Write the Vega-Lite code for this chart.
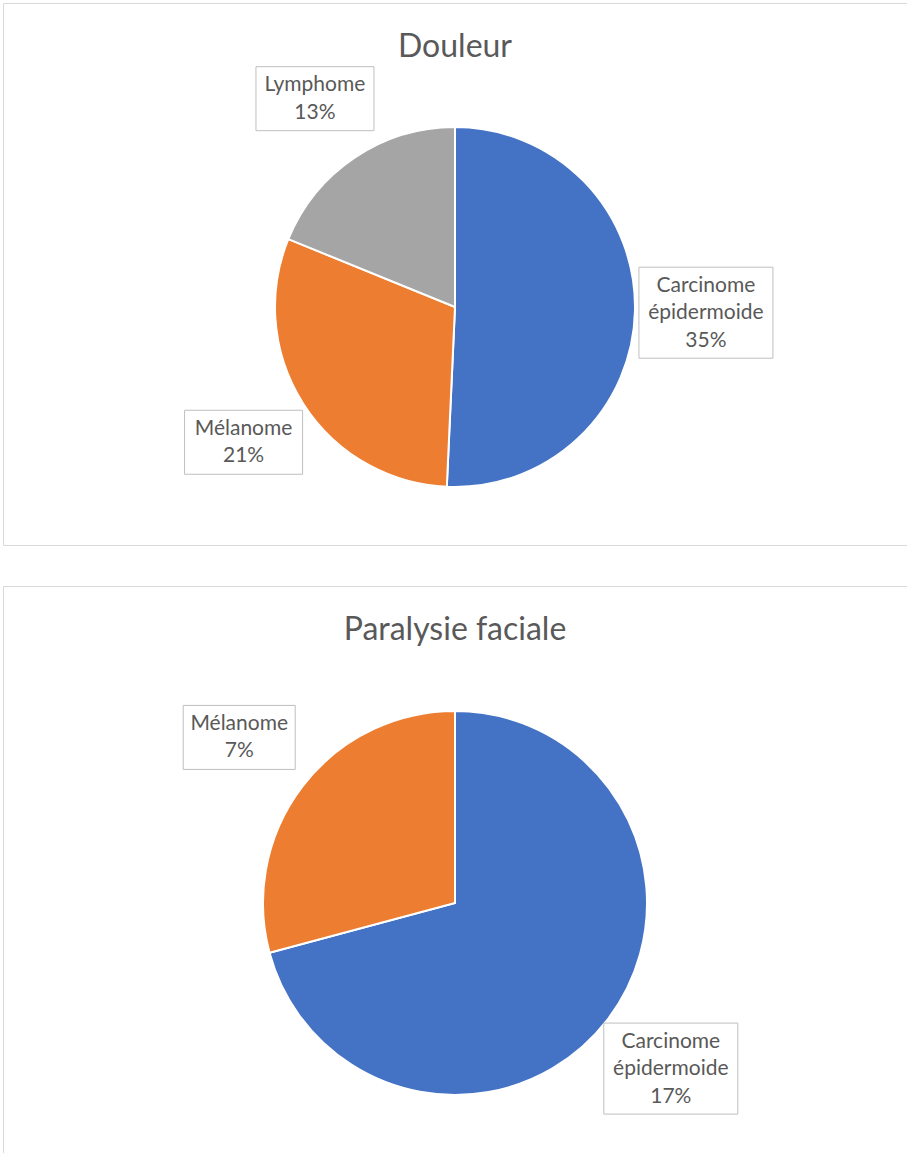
{
  "$schema": "https://vega.github.io/schema/vega-lite/v6.json",
  "padding": {"left": 2, "top": 2, "right": 1, "bottom": 0},
  "background": "white",
  "spacing": 39,
  "config": {
    "view": {"stroke": "#d9d9d9", "strokeWidth": 1},
    "font": "Lato",
    "title": {"fontSize": 32, "fontWeight": "normal", "color": "#595959", "font": "Lato", "anchor": "middle", "offset": -61}
  },
  "datasets": {
    "douleur": [
      {"cat": "Carcinome épidermoide", "v": 35, "label": ["Carcinome", "épidermoide", "35%"]},
      {"cat": "Mélanome", "v": 21, "label": ["Mélanome", "21%"]},
      {"cat": "Lymphome", "v": 13, "label": ["Lymphome", "13%"]}
    ],
    "paralysie": [
      {"cat": "Carcinome épidermoide", "v": 17, "label": ["Carcinome", "épidermoide", "17%"]},
      {"cat": "Mélanome", "v": 7, "label": ["Mélanome", "7%"]}
    ]
  },
  "resolve": {"scale": {"theta": "independent"}},
  "vconcat": [
    {
      "width": 904,
      "height": 542,
      "view": {"stroke": "#d9d9d9", "strokeWidth": 1, "fill": "white"},
      "title": {"text": "Douleur"},
      "data": {"name": "douleur"},
      "layer": [
        {
          "mark": {"type": "arc", "outerRadius": 180, "stroke": "white", "strokeWidth": 2, "y": 304},
          "encoding": {
            "theta": {"field": "v", "type": "quantitative", "stack": true},
            "order": {"field": "v", "type": "quantitative", "sort": "descending"},
            "color": {"field": "cat", "type": "nominal", "legend": null,
              "scale": {"domain": ["Carcinome épidermoide", "Mélanome", "Lymphome"], "range": ["#4472C4", "#ED7D31", "#A5A5A5"]}}
          }
        },
        {
          "transform": [
            {"joinaggregate": [{"op": "sum", "field": "v", "as": "tot"}]},
            {"stack": "v", "groupby": [], "sort": [{"field": "v", "order": "descending"}], "as": ["v0", "v1"]}
          ],
          "mark": {"type": "point", "filled": false, "fill": "white", "fillOpacity": 1, "stroke": "#bfbfbf", "strokeWidth": 1, "opacity": 1, "size": 4,
            "x": {"expr": "452 + 251 * sin(PI * (datum.v0 + datum.v1) / datum.tot)"},
            "y": {"expr": "304 - 251 * cos(PI * (datum.v0 + datum.v1) / datum.tot)"},
            "shape": {"expr": "length(datum.label) > 2 ? 'M-67,-45.5H67V45.5H-67Z' : 'M-59,-32H59V32H-59Z'"}},
          "encoding": {"detail": {"field": "cat"}}
        },
        {
          "mark": {"type": "text", "radius": 251, "y": 304, "dy": {"expr": "-13.5 * (length(datum.label) - 1)"}, "fontSize": 21, "lineHeight": 27.5, "fill": "#595959", "align": "center", "baseline": "middle"},
          "encoding": {
            "theta": {"field": "v", "type": "quantitative", "stack": true},
            "order": {"field": "v", "type": "quantitative", "sort": "descending"},
            "text": {"field": "label"},
            "detail": {"field": "cat"}
          }
        }
      ]
    },
    {
      "width": 904,
      "height": 570,
      "view": {"stroke": "#d9d9d9", "strokeWidth": 1, "fill": "white"},
      "title": {"text": "Paralysie faciale"},
      "data": {"name": "paralysie"},
      "layer": [
        {
          "mark": {"type": "arc", "outerRadius": 192, "stroke": "white", "strokeWidth": 2, "y": 317},
          "encoding": {
            "theta": {"field": "v", "type": "quantitative", "stack": true},
            "order": {"field": "v", "type": "quantitative", "sort": "descending"},
            "color": {"field": "cat", "type": "nominal", "legend": null,
              "scale": {"domain": ["Carcinome épidermoide", "Mélanome", "Lymphome"], "range": ["#4472C4", "#ED7D31", "#A5A5A5"]}}
          }
        },
        {
          "transform": [
            {"joinaggregate": [{"op": "sum", "field": "v", "as": "tot"}]},
            {"stack": "v", "groupby": [], "sort": [{"field": "v", "order": "descending"}], "as": ["v0", "v1"]}
          ],
          "mark": {"type": "point", "filled": false, "fill": "white", "fillOpacity": 1, "stroke": "#bfbfbf", "strokeWidth": 1, "opacity": 1, "size": 4,
            "x": {"expr": "452 + 272 * sin(PI * (datum.v0 + datum.v1) / datum.tot)"},
            "y": {"expr": "317 - 272 * cos(PI * (datum.v0 + datum.v1) / datum.tot)"},
            "shape": {"expr": "length(datum.label) > 2 ? 'M-67,-45.5H67V45.5H-67Z' : 'M-56,-32H56V32H-56Z'"}},
          "encoding": {"detail": {"field": "cat"}}
        },
        {
          "mark": {"type": "text", "radius": 272, "y": 317, "dy": {"expr": "-13.5 * (length(datum.label) - 1)"}, "fontSize": 21, "lineHeight": 27.5, "fill": "#595959", "align": "center", "baseline": "middle"},
          "encoding": {
            "theta": {"field": "v", "type": "quantitative", "stack": true},
            "order": {"field": "v", "type": "quantitative", "sort": "descending"},
            "text": {"field": "label"},
            "detail": {"field": "cat"}
          }
        }
      ]
    }
  ]
}
